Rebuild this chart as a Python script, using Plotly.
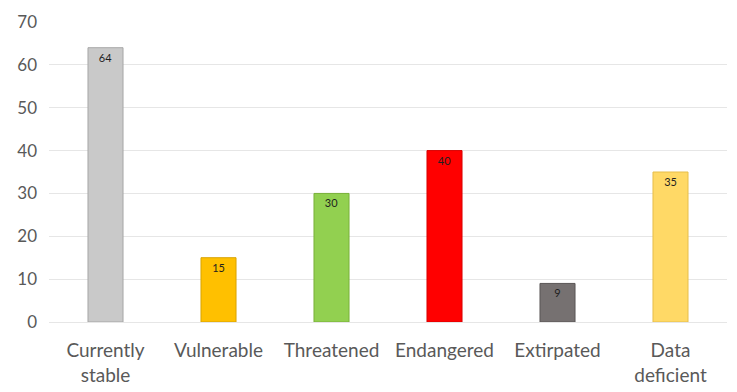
import plotly.graph_objects as go

categories = ["Currently<br>stable", "Vulnerable", "Threatened", "Endangered", "Extirpated", "Data<br>deficient"]
values = [64, 15, 30, 40, 9, 35]
colors = ["#C9C9C9", "#FFC000", "#92D050", "#FF0000", "#767171", "#FFD966"]
edge_colors = ["#A6A6A6", "#D9A300", "#78B038", "#D90000", "#5A5656", "#E6BE4A"]
y_ticks = [0, 10, 20, 30, 40, 50, 60, 70]

fig = go.Figure()
fig.add_trace(go.Bar(
    x=categories,
    y=values,
    width=0.31,
    marker=dict(color=colors, line=dict(color=edge_colors, width=1)),
    text=[str(v) for v in values],
    textposition="inside",
    insidetextanchor="end",
    constraintext="none",
    textfont=dict(family="Lato, DejaVu Sans, sans-serif", size=11, color="#1F1F1F"),
    hoverinfo="skip",
))

fig.update_layout(
    width=737, height=392,
    margin=dict(l=49, r=10, t=22, b=70, autoexpand=False),
    paper_bgcolor="white",
    plot_bgcolor="white",
    showlegend=False,
    font=dict(family="Lato, Open Sans, sans-serif", size=19, color="#595959"),
    bargap=0.69,
)
fig.update_xaxes(
    showgrid=False, showline=False, ticks="", automargin=False,
    ticklabelstandoff=15,
    tickfont=dict(size=19, color="#595959"),
)
fig.update_yaxes(
    range=[0, 70], tickvals=y_ticks, automargin=False,
    showgrid=True, gridcolor="#E6E6E6", gridwidth=1,
    zeroline=True, zerolinecolor="#E6E6E6", zerolinewidth=1,
    showline=False, ticks="", ticklabelstandoff=11,
    tickfont=dict(size=17, color="#595959"),
)

fig.write_html(
    "out.html",
    config={"displayModeBar": False},
    post_script="document.body.style.margin='0px';",
)
